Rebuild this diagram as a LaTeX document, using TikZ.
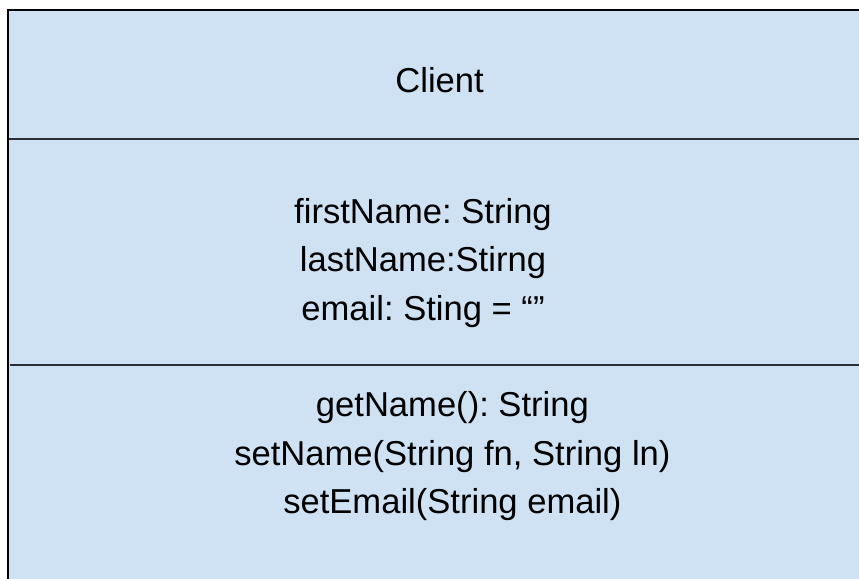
\documentclass[tikz,border=0pt]{standalone}
\usepackage{fontspec}
\setmainfont{Liberation Sans}
\usetikzlibrary{positioning}
\frenchspacing
\definecolor{classfill}{HTML}{CFE2F3}
\definecolor{classline}{HTML}{2B2F33}
\tikzset{member/.style={anchor=base, inner sep=0pt, font=\fontsize{24.6}{29}\selectfont}}

\begin{document}
\begin{tikzpicture}
        \useasboundingbox (0,0) rectangle (21.475,14.45);
        \clip (0,0) rectangle (21.475,14.45);
        %class box
        \fill[classfill] (0.2,-1) rectangle (23,14.2);
        \draw[line width=1.6pt] (23,14.2) -- (0.2,14.2) -- (0.2,-1);
        %compartments
        \draw[classline, line width=1.6pt] (0.22,10.975) -- (23,10.975);
        \draw[classline, line width=1.6pt] (0.25,5.325) -- (23,5.325);
        %name
        \node[member] (classname) at (10.99,12.125) {Client};
        %attributes
        \foreach \txt/\y [count=\i] in {{firstName: String}/8.875, {lastName:Stirng}/7.66, {email: Sting = “”}/6.45}
            \node[member] (attr\i) at (10.575,\y) {\txt};
        %methods
        \foreach \txt/\y [count=\i] in {{getName(): String}/4.05, {setName(String fn, String ln)}/2.825, {setEmail(String email)}/1.625}
            \node[member] (meth\i) at (11.31,\y) {\txt};
\end{tikzpicture}
\end{document}
